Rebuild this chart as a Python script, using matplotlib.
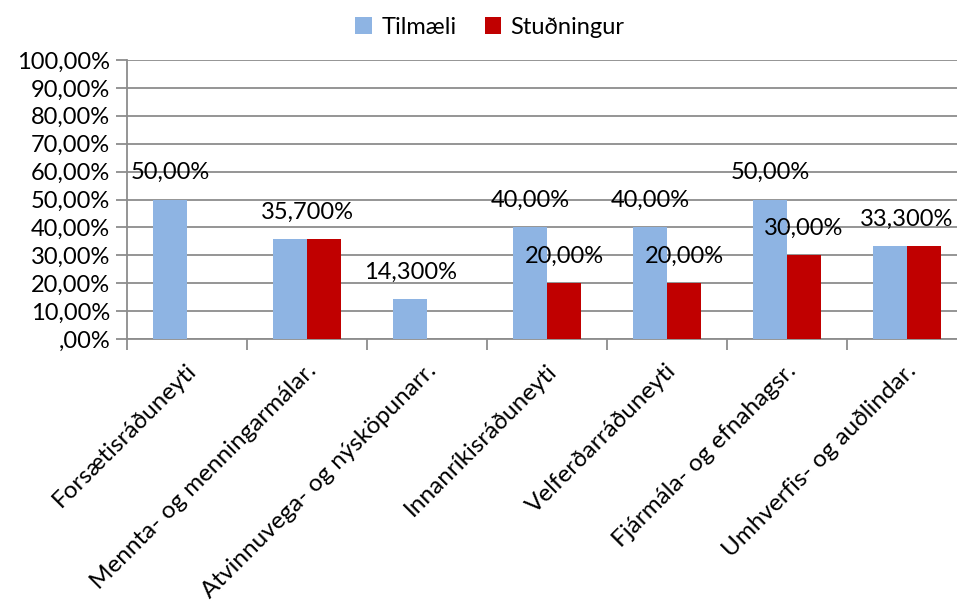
import numpy as np
import matplotlib
matplotlib.use("Agg")
import matplotlib.pyplot as plt

plt.rcParams['font.family'] = ['Lato', 'DejaVu Sans']

# data
categories = ['Forsætisráðuneyti', 'Mennta- og menningarmálar.', 'Atvinnuvega- og nýsköpunarr.',
              'Innanríkisráðuneyti', 'Velferðarráðuneyti', 'Fjármála- og efnahagsr.',
              'Umhverfis- og auðlindar.']
tilmaeli = [50.0, 35.7, 14.3, 40.0, 40.0, 50.0, 33.3]
studningur = [0.0, 35.7, 0.0, 20.0, 20.0, 30.0, 33.3]
tilmaeli_labels = ['50,00%', '35,700%', '14,300%', '40,00%', '40,00%', '50,00%', '33,300%']
studningur_labels = ['', '35,700%', '', '20,00%', '20,00%', '30,00%', '33,300%']
ytick_vals = np.arange(0, 101, 10)
ytick_labels = [',00%'] + ['%d,00%%' % v for v in ytick_vals[1:]]

blue = '#8EB4E3'
red = '#C00000'
grid_c = '#8C8C8C'

fig = plt.figure(figsize=(9.57, 6.01), dpi=100)
ax = fig.add_axes([127 / 957, 262 / 601, 840 / 957, 279 / 601])

x = np.arange(len(categories))
w = 0.283
ax.bar(x - w / 2, tilmaeli, w, color=blue, label='Tilmæli', zorder=3)
ax.bar(x + w / 2, studningur, w, color=red, label='Stuðningur', zorder=3)

fs = 17
off = 12
for i in range(len(categories)):
    if tilmaeli[i] == studningur[i]:
        # both labels coincide, show one over the pair
        ax.annotate(tilmaeli_labels[i], (x[i], tilmaeli[i]), xytext=(0, off),
                    textcoords='offset points', ha='center', va='bottom', fontsize=fs)
        continue
    if tilmaeli[i] > 0:
        ax.annotate(tilmaeli_labels[i], (x[i] - w / 2, tilmaeli[i]), xytext=(0, off),
                    textcoords='offset points', ha='center', va='bottom', fontsize=fs)
    if studningur[i] > 0:
        ax.annotate(studningur_labels[i], (x[i] + w / 2, studningur[i]), xytext=(0, off),
                    textcoords='offset points', ha='center', va='bottom', fontsize=fs)

ax.set_ylim(0, 100)
ax.set_xlim(-0.5, len(categories) - 0.5)
ax.set_yticks(ytick_vals)
ax.set_yticklabels(ytick_labels, fontsize=fs)
ax.yaxis.grid(True, color=grid_c, linewidth=1.3, zorder=0)
ax.tick_params(axis='y', length=8, width=1.3, color=grid_c, pad=4)

# category ticks sit between groups
ax.set_xticks(np.arange(len(categories) + 1) - 0.5)
ax.set_xticklabels([])
ax.tick_params(axis='x', length=8, width=1.3, color=grid_c)
for i, cat in enumerate(categories):
    ax.annotate(cat, (x[i], 0), xytext=(-1, -15), textcoords='offset points',
                rotation=45, rotation_mode='anchor', ha='right', va='top', fontsize=17.5)

for s in ['top', 'right']:
    ax.spines[s].set_visible(False)
for s in ['left', 'bottom']:
    ax.spines[s].set_color(grid_c)
    ax.spines[s].set_linewidth(1.3)

fig.legend(loc='center', bbox_to_anchor=(490 / 957, 1 - 27 / 601), ncol=2, frameon=False,
           fontsize=fs, handlelength=0.7, handleheight=0.7, handletextpad=0.4, columnspacing=1.2)

fig.savefig('out.png', dpi=100)
